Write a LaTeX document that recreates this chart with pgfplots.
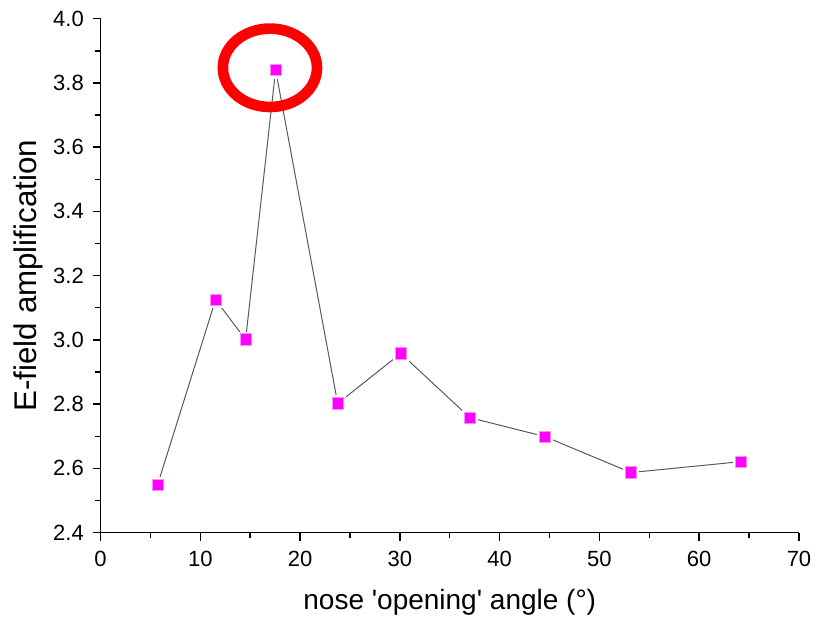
\documentclass[border=0pt]{standalone}
\usepackage{pgfplots}
\pgfplotsset{compat=1.18}
\usepackage{fontspec}
\setmainfont{Liberation Sans}
\definecolor{mag}{RGB}{255,0,255}
\definecolor{magb}{RGB}{255,140,255}
\begin{document}
\begin{tikzpicture}
\begin{axis}[
  scale only axis,
  width=523.9pt, height=385.5pt,
  xmin=0, xmax=70, ymin=2.4, ymax=4.0,
  axis x line*=bottom, axis y line*=left,
  axis line style={line width=1.1pt, -},
  xtick={0,10,...,70}, ytick={2.4,2.6,...,4.01},
  minor x tick num=1, minor y tick num=1,
  tick align=outside,
  major tick length=6pt, minor tick length=3.8pt,
  tick style={line width=1.1pt, black},
  /pgf/number format/assume math mode=true,
  /pgf/number format/.cd, fixed, fixed zerofill, precision=1,
  /pgfplots/.cd,
  xticklabel={\pgfmathprintnumber[fixed,precision=0]{\tick}},
  ticklabel style={font=\fontsize{16.5}{19}\selectfont},
  xticklabel style={yshift=-4pt},
  yticklabel style={xshift=-3pt},
  xlabel={nose \textquotesingle opening\textquotesingle{} angle (°)},
  ylabel={E-field amplification},
  xlabel style={font=\fontsize{21}{25}\selectfont, yshift=-10pt},
  ylabel style={font=\fontsize{23.5}{28}\selectfont, yshift=1pt},
  clip=false,
]
\addplot[color=black!65, line width=0.75pt, mark=none] coordinates {
(5.72,2.549) (11.53,3.125) (14.54,3.001) (17.55,3.840) (23.77,2.802)
(30.09,2.958) (37.01,2.758) (44.53,2.699) (53.16,2.587) (64.19,2.621)
};
\addplot[only marks, mark=square*, mark size=5.8pt, mark options={fill=white, draw=white}] coordinates {
(5.72,2.549) (11.53,3.125) (14.54,3.001) (17.55,3.840) (23.77,2.802)
(30.09,2.958) (37.01,2.758) (44.53,2.699) (53.16,2.587) (64.19,2.621)
};
\addplot[only marks, mark=square*, mark size=4.3pt, mark options={fill=mag, draw=magb, line width=0.5pt}] coordinates {
(5.72,2.549) (11.53,3.125) (14.54,3.001) (17.55,3.840) (23.77,2.802)
(30.09,2.958) (37.01,2.758) (44.53,2.699) (53.16,2.587) (64.19,2.621)
};
\draw[red, line width=8pt] (axis cs:16.98,3.847) ellipse [x radius=35.3pt, y radius=29.4pt];
\end{axis}
\pgfresetboundingbox
\useasboundingbox (current axis.south west) ++(-75.4pt,-65.5pt) rectangle ([xshift=12pt,yshift=14pt]current axis.north east);
\end{tikzpicture}
\end{document}
